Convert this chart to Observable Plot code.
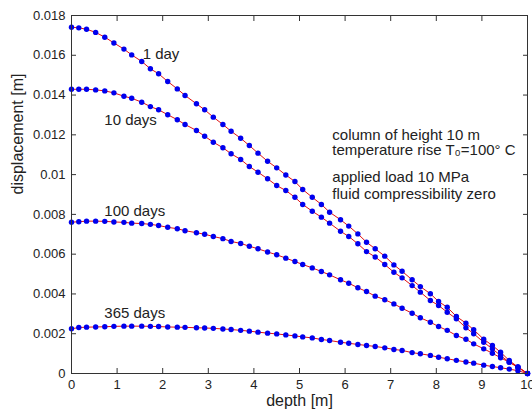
<!DOCTYPE html>
<html>
<head>
<meta charset="utf-8">
<script src="https://cdn.jsdelivr.net/npm/d3@7"></script>
<script src="https://cdn.jsdelivr.net/npm/@observablehq/plot@0.6"></script>
<style>
  html, body { margin: 0; padding: 0; background: #fff; }
</style>
</head>
<body>
<div id="chart"></div>
<script>
// depth nodes [m]
const depth = [0, 0.16, 0.33, 0.53, 0.73, 0.93, 1.15, 1.32, 1.54, 1.73, 1.91, 2.11, 2.32, 2.49, 2.74, 2.92, 3.11, 3.32, 3.50, 3.71, 3.90, 4.09, 4.30, 4.50, 4.70, 4.90, 5.07, 5.28, 5.48, 5.66, 5.90, 6.08, 6.28, 6.47, 6.66, 6.87, 7.07, 7.25, 7.47, 7.65, 7.87, 8.05, 8.24, 8.44, 8.65, 8.82, 9.04, 9.23, 9.41, 9.60, 9.79, 10];

// displacement [m] per time
const day1 = [0.01741, 0.01738, 0.01731, 0.01715, 0.01691, 0.01662, 0.01631, 0.01602, 0.01569, 0.01532, 0.01507, 0.01468, 0.01431, 0.01398, 0.01356, 0.01326, 0.01289, 0.01252, 0.01218, 0.01183, 0.01146, 0.01108, 0.01067, 0.01034, 0.00998, 0.00965, 0.00925, 0.00886, 0.00850, 0.00811, 0.00773, 0.00741, 0.00702, 0.00660, 0.00627, 0.00590, 0.00546, 0.00514, 0.00471, 0.00437, 0.00401, 0.00362, 0.00333, 0.00287, 0.00253, 0.00220, 0.00172, 0.00141, 0.00107, 0.00065, 0.00033, 0];
const days10 = [0.01429, 0.01429, 0.01429, 0.01426, 0.01421, 0.01411, 0.01394, 0.01384, 0.01364, 0.01342, 0.01326, 0.01301, 0.01276, 0.01252, 0.01222, 0.01193, 0.01163, 0.01135, 0.01105, 0.01076, 0.01041, 0.01012, 0.00979, 0.00945, 0.00920, 0.00886, 0.00850, 0.00816, 0.00786, 0.00756, 0.00715, 0.00689, 0.00652, 0.00613, 0.00586, 0.00548, 0.00509, 0.00481, 0.00442, 0.00409, 0.00367, 0.00342, 0.00308, 0.00275, 0.00230, 0.00200, 0.00157, 0.00124, 0.00090, 0.00057, 0.00030, 0];
const days100 = [0.00761, 0.00763, 0.00766, 0.00766, 0.00765, 0.00762, 0.00760, 0.00756, 0.00754, 0.00750, 0.00744, 0.00735, 0.00728, 0.00718, 0.00708, 0.00700, 0.00689, 0.00678, 0.00664, 0.00654, 0.00640, 0.00627, 0.00611, 0.00597, 0.00580, 0.00563, 0.00548, 0.00531, 0.00513, 0.00496, 0.00471, 0.00454, 0.00431, 0.00412, 0.00389, 0.00371, 0.00350, 0.00328, 0.00303, 0.00280, 0.00258, 0.00236, 0.00217, 0.00191, 0.00172, 0.00149, 0.00124, 0.00102, 0.00079, 0.00057, 0.00033, 0];
const days365 = [0.00225, 0.00231, 0.00233, 0.00234, 0.00235, 0.00237, 0.00238, 0.00238, 0.00238, 0.00237, 0.00236, 0.00234, 0.00233, 0.00232, 0.00230, 0.00229, 0.00227, 0.00224, 0.00221, 0.00217, 0.00213, 0.00208, 0.00203, 0.00199, 0.00194, 0.00189, 0.00184, 0.00179, 0.00171, 0.00166, 0.00157, 0.00152, 0.00146, 0.00141, 0.00136, 0.00129, 0.00121, 0.00116, 0.00105, 0.00099, 0.00091, 0.00082, 0.00074, 0.00066, 0.00058, 0.00052, 0.00042, 0.00035, 0.00029, 0.00022, 0.00014, 0];

const seriesNames = ["1 day", "10 days", "100 days", "365 days"];
const seriesValues = [day1, days10, days100, days365];

// curve labels (anchor positions in data units)
const labelText = ["1 day", "10 days", "100 days", "365 days"];
const labelX = [1.56, 0.72, 0.72, 0.72];
const labelY = [0.01603, 0.01276, 0.00815, 0.00304];

// annotation block
const noteLines = ["column of height 10 m", "temperature rise T\u2080=100\u00B0 C", "applied load 10 MPa", "fluid compressibility zero"];
const noteX = [5.72, 5.72, 5.72, 5.72];
const noteY = [0.01200, 0.01122, 0.00989, 0.00904];

// ticks
const xTicks = [0, 1, 2, 3, 4, 5, 6, 7, 8, 9, 10];
const yTicks = [0, 0.002, 0.004, 0.006, 0.008, 0.01, 0.012, 0.014, 0.016, 0.018];
const xTitle = "depth [m]";
const yTitle = "displacement [m]";

const rows = [];
seriesNames.forEach((name, s) => {
  depth.forEach((d, i) => rows.push({series: name, depth: d, disp: seriesValues[s][i]}));
});
const labels = labelText.map((t, i) => ({t, x: labelX[i], y: labelY[i]}));
const notes = noteLines.map((t, i) => ({t, x: noteX[i], y: noteY[i]}));

const ink = "#222";
const yFmt = d => d === 0 ? "0" : String(d);

const chart = Plot.plot({
  width: 532,
  height: 415,
  marginLeft: 71,
  marginRight: 5,
  marginTop: 15,
  marginBottom: 42,
  style: {fontFamily: "'Liberation Sans', Arial, sans-serif", fontSize: "13px", color: ink, background: "#fff"},
  x: {domain: [0, 10]},
  y: {domain: [0, 0.018]},
  marks: [
    Plot.line(rows, {x: "depth", y: "disp", z: "series", stroke: "#e01010", strokeWidth: 1}),
    Plot.dot(rows, {x: "depth", y: "disp", r: 2.7, fill: "#0000ee", stroke: "none"}),
    Plot.frame({stroke: "#333", strokeWidth: 1}),
    Plot.axisX({ticks: xTicks, tickSize: 0, tickPadding: 6, label: null, fill: ink, fontSize: 13}),
    Plot.axisX({ticks: xTicks, tickSize: -5, tickFormat: () => "", label: null, stroke: "#333"}),
    Plot.axisX({anchor: "top", ticks: xTicks, tickSize: -5, tickFormat: () => "", label: null, stroke: "#333"}),
    Plot.axisY({ticks: yTicks, tickSize: 0, tickPadding: 6, tickFormat: yFmt, label: null, fill: ink, fontSize: 13}),
    Plot.axisY({ticks: yTicks, tickSize: -5, tickFormat: () => "", label: null, stroke: "#333"}),
    Plot.axisY({anchor: "right", ticks: yTicks, tickSize: -5, tickFormat: () => "", label: null, stroke: "#333"}),
    Plot.text(labels, {x: "x", y: "y", text: "t", textAnchor: "start", fontSize: 15, fill: ink}),
    Plot.text(notes, {x: "x", y: "y", text: "t", textAnchor: "start", fontSize: 15, fill: ink}),
    Plot.text([xTitle], {frameAnchor: "bottom", dy: 32, text: d => d, fontSize: 16, fill: ink}),
    Plot.text([yTitle], {frameAnchor: "left", dx: -54, rotate: -90, text: d => d, fontSize: 16, fill: ink})
  ]
});
document.getElementById("chart").appendChild(chart);
</script>
</body>
</html>
